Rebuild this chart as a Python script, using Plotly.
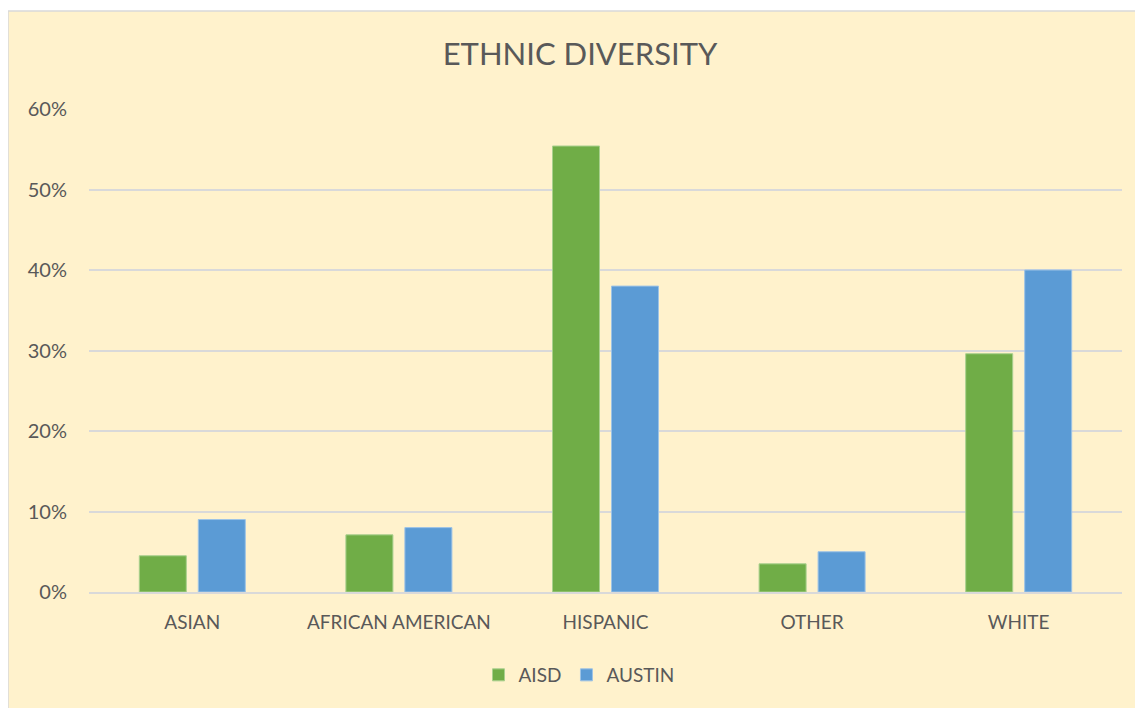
import plotly.graph_objects as go

categories = ["ASIAN", "AFRICAN AMERICAN", "HISPANIC", "OTHER", "WHITE"]
aisd = [0.045, 0.071, 0.554, 0.035, 0.296]
austin = [0.09, 0.08, 0.38, 0.05, 0.40]
y_ticks = [0, 0.1, 0.2, 0.3, 0.4, 0.5, 0.6]

W, H = 1135, 700
L, R, T, B = 81, 21, 101, 116
pw, ph = W - L - R, H - T - B

font_family = "Lato"
txt = "#595959"

fig = go.Figure()
fig.add_trace(go.Bar(name="AISD", x=categories, y=aisd,
                     marker=dict(color="#70AD47", line=dict(color="#A9D08E", width=1))))
fig.add_trace(go.Bar(name="AUSTIN", x=categories, y=austin,
                     marker=dict(color="#5B9BD5", line=dict(color="#9DC3E6", width=1))))

fig.update_layout(
    width=W, height=H,
    margin=dict(l=L, r=R, t=T, b=B),
    paper_bgcolor="white",
    plot_bgcolor="rgba(0,0,0,0)",
    barmode="group", bargap=0.429, bargroupgap=0.203,
    font=dict(family=font_family, color=txt, size=19),
    title=dict(text="ETHNIC DIVERSITY", x=572 / W, xanchor="center",
               y=1 - 46 / H, yanchor="middle",
               font=dict(size=31, color=txt, family=font_family)),
    legend=dict(orientation="h", x=(571 - L) / pw, xanchor="center",
                y=(H - B - 667) / ph, yanchor="middle",
                font=dict(size=19, color=txt), bgcolor="rgba(0,0,0,0)",
                itemwidth=30, tracegroupgap=0),
    showlegend=True,
    hovermode=False,
)
fig.update_yaxes(range=[0, 0.6], tickvals=y_ticks, tickformat=".0%",
                 showgrid=True, gridcolor="#D9D9D9", gridwidth=1.5,
                 zeroline=False, showline=False, ticks="",
                 ticklabelstandoff=21, tickfont=dict(size=20, color=txt))
fig.update_xaxes(showgrid=False, showline=True, linecolor="#D9D9D9", linewidth=1.5,
                 ticks="", ticklabelstandoff=12, tickfont=dict(size=19, color=txt))

fig.add_shape(type="rect", xref="paper", yref="paper",
              x0=(0 - L) / pw, x1=(W + 5 - L) / pw,
              y0=(H - B - H - 5) / ph, y1=(H - B - 3) / ph,
              fillcolor="#FFF2CC", line=dict(color="#D9D9D9", width=1.5),
              layer="below")

fig.write_html("out.html")
